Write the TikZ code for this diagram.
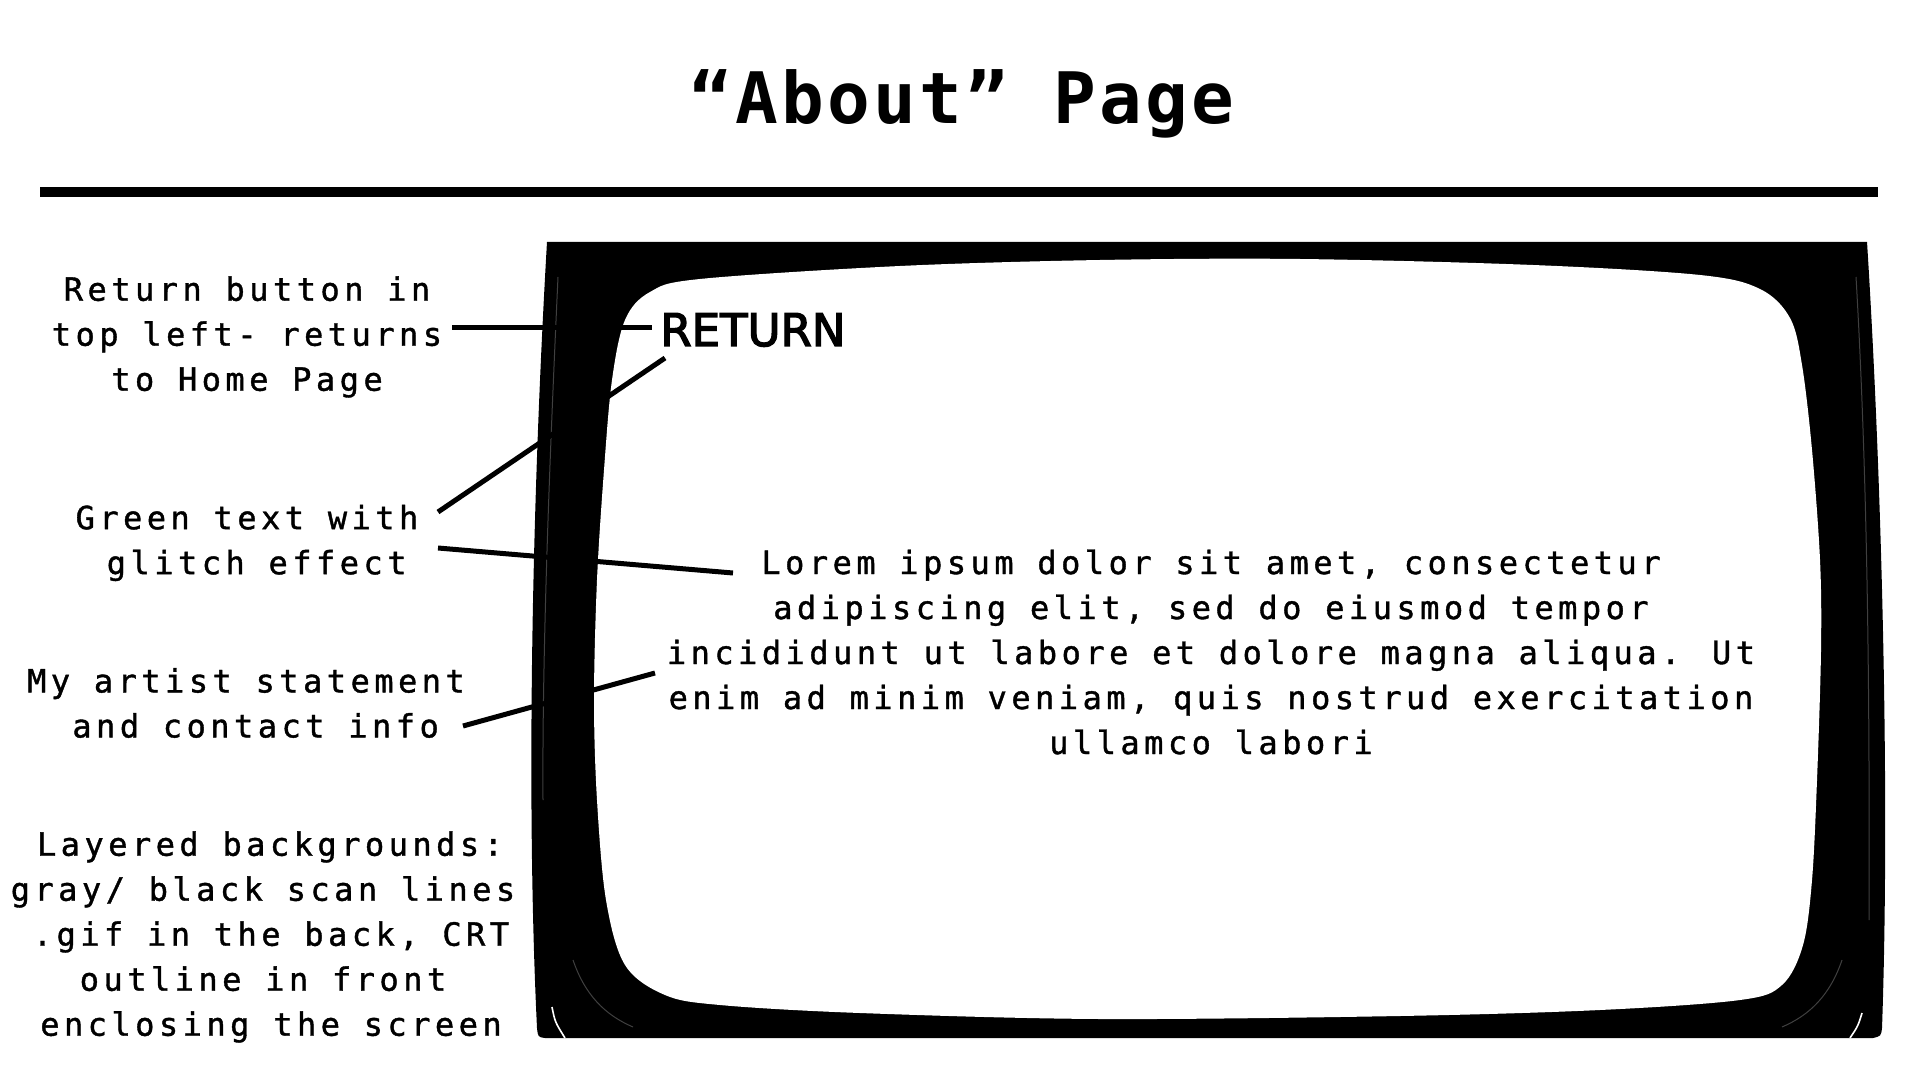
\documentclass[tikz,border=0pt]{standalone}
\usepackage{fontspec}
\newfontfamily\monofam{DejaVu Sans Mono}[LetterSpace=14, FakeBold=1.2]
\newfontfamily\titlefam{DejaVu Sans Mono}[LetterSpace=4.5]
\newfontfamily\sansfam{DejaVu Sans}[FakeBold=3]
\newcommand\notefont{\monofam\fontsize{16pt}{22.5pt}\selectfont}
\newcommand\headfont{\titlefam\bfseries\fontsize{35.5pt}{40pt}\selectfont}
\newcommand\btnfont{\sansfam\fontsize{22.5pt}{27pt}\selectfont}
\begin{document}
\begin{tikzpicture}[x=0.5pt,y=-0.5pt,
  conn/.style={line width=2.5pt, line cap=butt},
  note/.style={font=\notefont, align=center, inner sep=0pt},
  glint/.style={line width=0.5pt, draw=black!75!white},
  spark/.style={line width=0.8pt, draw=white}]
\useasboundingbox (0,0) rectangle (1920,1080);
\fill[white] (0,0) rectangle (1920,1080);

% heading and rule
\node[font=\headfont, anchor=base, inner sep=0pt] (title) at (962,124) {“About” Page};
\coordinate (ruleL) at (40,192);
\coordinate (ruleR) at (1878,192);
\draw[line width=5pt] (ruleL) -- (ruleR);

% CRT bezel
\fill[black] (547,242) -- (1867,242)
  .. controls (1882,480) and (1890,800) .. (1882,1028)
  .. controls (1881,1036) .. (1873,1038) -- (545,1038)
  .. controls (538,1037) .. (537,1028)
  .. controls (526,800) and (532,500) .. (547,242) -- cycle;
% screen glass
\fill[white] plot[smooth cycle, tension=0.55] coordinates {
  (700,279) (900,266) (1100,260) (1300,259) (1533,265) (1700,275)
  (1760,289) (1790,318) (1802,365) (1812,450) (1820,560) (1821,650)
  (1817,780) (1812,880) (1803,945) (1782,985) (1740,1000) (1600,1010)
  (1400,1016) (1100,1019) (860,1013) (720,1005) (665,995) (625,965)
  (606,900) (597,800) (594,700) (597,580) (604,470) (612,380)
  (625,320) (650,292)};
% reflections on the bezel
\draw[glint] (558,277) .. controls (550,450) and (542,650) .. (543,800);
\draw[glint] (1856,277) .. controls (1866,450) and (1870,650) .. (1869,920);
\draw[glint] (573,960) .. controls (585,995) and (605,1015) .. (633,1027);
\draw[glint] (1842,960) .. controls (1830,995) and (1810,1015) .. (1782,1027);
\draw[spark] (552,1007) .. controls (555,1022) .. (565,1038);
\draw[spark] (1862,1013) .. controls (1858,1026) .. (1850,1038);

% screen content
\node[font=\btnfont, anchor=base west, inner sep=0pt] (ret) at (660,346) {RETURN};
\node[note] (body) at (1211,652) {Lorem ipsum dolor sit amet, consectetur\\adipiscing elit, sed do eiusmod tempor\\incididunt ut labore et dolore magna aliqua. Ut\\enim ad minim veniam, quis nostrud exercitation\\ullamco labori};

% annotations
\node[note] (nReturn) at (247,337) {Return button in\\top left- returns\\to Home Page};
\node[note] (nGlitch) at (247,543) {Green text with\\\hphantom{x}glitch effect};
\node[note] (nInfo) at (246,703) {My artist statement\\\hphantom{x}and contact info};
\node[note] (nLayers) at (263,937) {\hspace*{7pt}Layered backgrounds:\\gray/ black scan lines\hspace*{2pt}\\\hspace*{8pt}.gif in the back, CRT\\outline in front\hspace*{4pt}\\\hspace*{8pt}enclosing the screen};

% leader lines
\coordinate (a1) at (452,328);
\coordinate (b1) at (652,328);
\coordinate (a2) at (438,512);
\coordinate (b2) at (665,358);
\coordinate (a3) at (438,548);
\coordinate (b3) at (733,573);
\coordinate (a4) at (463,726);
\coordinate (b4) at (655,673);
\draw[conn] (a1) -- (b1);
\draw[conn] (a2) -- (b2);
\draw[conn] (a3) -- (b3);
\draw[conn] (a4) -- (b4);
\end{tikzpicture}
\end{document}
